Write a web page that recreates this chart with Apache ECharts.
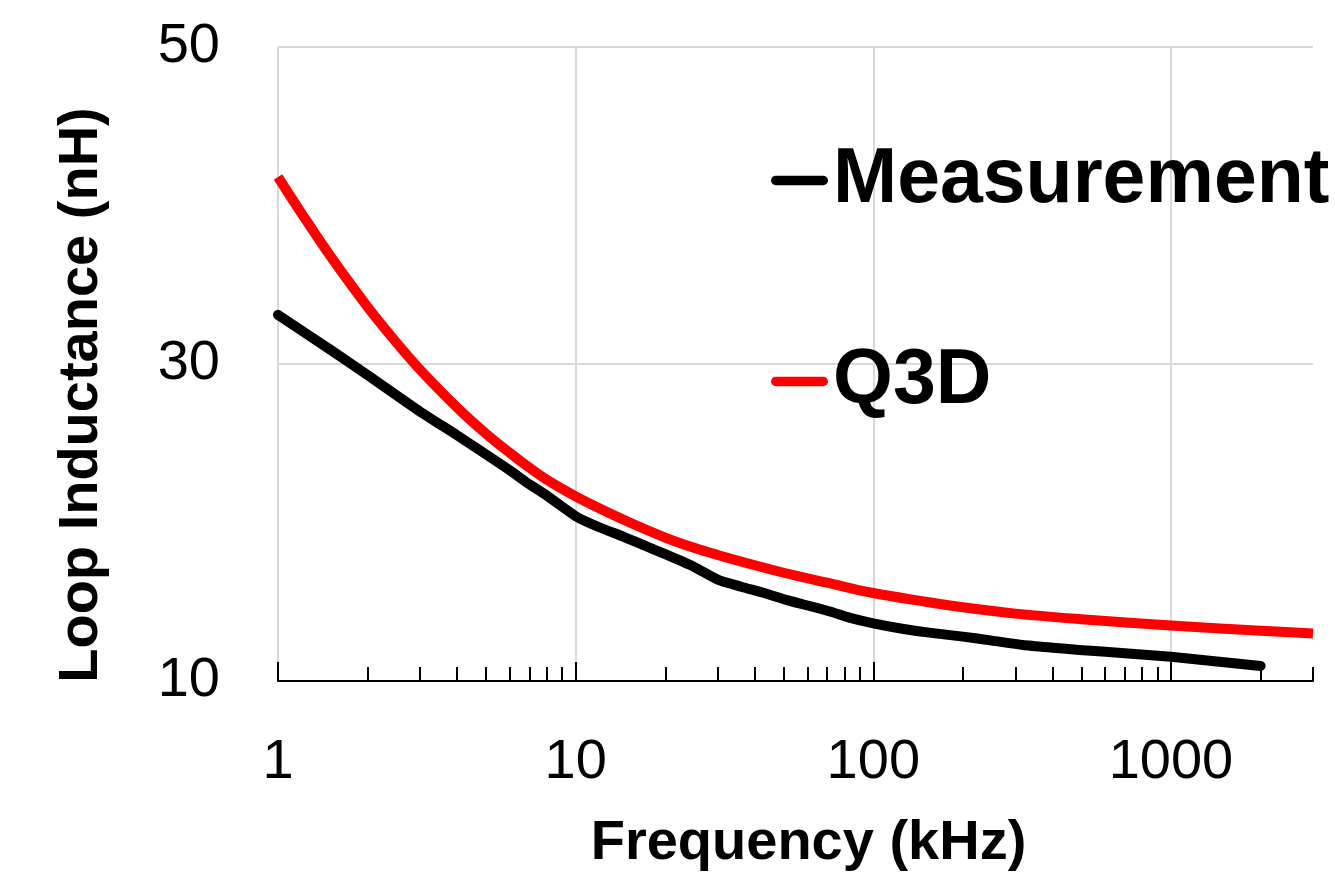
<!DOCTYPE html>
<html>
<head>
<meta charset="utf-8">
<script src="https://cdn.jsdelivr.net/npm/echarts@6/dist/echarts.min.js"></script>
<style>
html,body{margin:0;padding:0;background:#fff;}
#chart{width:1335px;height:882px;}
</style>
</head>
<body>
<div id="chart"></div>
<script>
// ---- data ----
const seriesNames = ['Measurement', 'Q3D'];
const measFreq = [1, 1.5, 2, 3, 4, 5, 6, 7, 8, 10, 12, 14.5, 17, 20, 25, 30, 36, 43, 52, 62, 72, 83, 100, 125, 154, 200, 250, 318, 400, 492, 700, 1000, 1400, 2000];
const measVal  = [33.1, 30.9, 29.3, 27.0, 25.5, 24.3, 23.3, 22.4, 21.7, 20.4, 19.7, 19.1, 18.55, 18.0, 17.2, 16.4, 15.95, 15.55, 15.07, 14.7, 14.37, 14.0, 13.64, 13.3, 13.05, 12.8, 12.55, 12.27, 12.1, 11.96, 11.75, 11.53, 11.25, 10.95];
const q3dFreq  = [1, 1.2, 1.5, 2, 2.5, 3, 4, 5, 6, 7, 8, 10, 12, 15, 20, 25, 30, 40, 50, 70, 100, 150, 200, 300, 500, 1000, 2000, 3000];
const q3dVal   = [41.8, 39.5, 36.8, 33.6, 31.35, 29.65, 27.25, 25.6, 24.4, 23.45, 22.7, 21.65, 20.9, 20.05, 19.05, 18.4, 17.95, 17.3, 16.83, 16.2, 15.55, 15.0, 14.65, 14.25, 13.9, 13.5, 13.17, 13.0];
const xMajorTicks = [1, 10, 100, 1000];
const xMinorTicks = [2,3,4,5,6,7,8,9,20,30,40,50,60,70,80,90,200,300,400,500,600,700,800,900,2000,3000];
const xRange = [1, 3000];
const yRange = [10, 50];
const yInterval = 20;
const xTitle = 'Frequency (kHz)';
const yTitle = 'Loop Inductance (nH)';

const FONT = '"Liberation Sans", Arial, sans-serif';
const pair = (xs, ys) => xs.map((x, i) => [x, ys[i]]);

const chart = echarts.init(document.getElementById('chart'), null, {renderer: 'canvas'});
chart.setOption({
  animation: false,
  backgroundColor: '#ffffff',
  grid: {left: 278, right: 22, top: 47, bottom: 201, containLabel: false, outerBoundsMode: 'none'},
  legend: {
    orient: 'vertical',
    left: 766, top: 137,
    itemWidth: 57, itemHeight: 10,
    itemGap: 124,
    icon: 'path://M5,0 L55,0 A5,5 0 0 1 55,10 L5,10 A5,5 0 0 1 5,0 Z',
    textStyle: {fontFamily: FONT, fontSize: 77, fontWeight: 'bold', color: '#000'},
    data: seriesNames
  },
  xAxis: [{
    type: 'log', logBase: 10, min: xRange[0], max: xRange[1], position: 'bottom',
    name: xTitle, nameLocation: 'middle', nameGap: 135,
    nameTextStyle: {fontFamily: FONT, fontSize: 56, fontWeight: 'bold', color: '#000', padding: [0, 0, 0, 26]},
    axisLine: {show: true, onZero: false, lineStyle: {color: '#000', width: 2}},
    axisTick: {show: true, inside: true, length: 19, customValues: xMajorTicks, lineStyle: {color: '#000', width: 2}},
    axisLabel: {show: true, customValues: xMajorTicks, fontFamily: FONT, fontSize: 56, color: '#000', margin: 54,
      formatter: v => String(Math.round(v))},
    splitLine: {show: true, lineStyle: {color: '#d9d9d9', width: 2}},
    minorTick: {show: false}
  }, {
    type: 'log', logBase: 10, min: xRange[0], max: xRange[1], position: 'bottom',
    axisLine: {show: false, onZero: false},
    axisTick: {show: true, inside: true, length: 14, customValues: xMinorTicks, lineStyle: {color: '#000', width: 2}},
    axisLabel: {show: false},
    splitLine: {show: false}
  }],
  yAxis: {
    type: 'value', min: yRange[0], max: yRange[1], interval: yInterval,
    name: yTitle, nameLocation: 'middle', nameGap: 168, nameRotate: 90,
    nameTextStyle: {fontFamily: FONT, fontSize: 56, fontWeight: 'bold', color: '#000', padding: [0, 62, 0, 0]},
    axisLine: {show: false},
    axisTick: {show: false},
    axisLabel: {fontFamily: FONT, fontSize: 56, color: '#000', margin: 58},
    splitLine: {show: true, lineStyle: {color: '#d9d9d9', width: 2}}
  },
  series: [{
    name: seriesNames[0], type: 'line', xAxisIndex: 0, showSymbol: false, symbol: 'none',
    smooth: 0.2, color: '#000000',
    lineStyle: {color: '#000000', width: 10, cap: 'round', join: 'round'},
    data: pair(measFreq, measVal), z: 3
  }, {
    name: seriesNames[1], type: 'line', xAxisIndex: 0, showSymbol: false, symbol: 'none',
    smooth: 0.35, color: '#ff0000',
    lineStyle: {color: '#ff0000', width: 10, cap: 'butt', join: 'round'},
    data: pair(q3dFreq, q3dVal), z: 2
  }]
});
</script>
</body>
</html>
